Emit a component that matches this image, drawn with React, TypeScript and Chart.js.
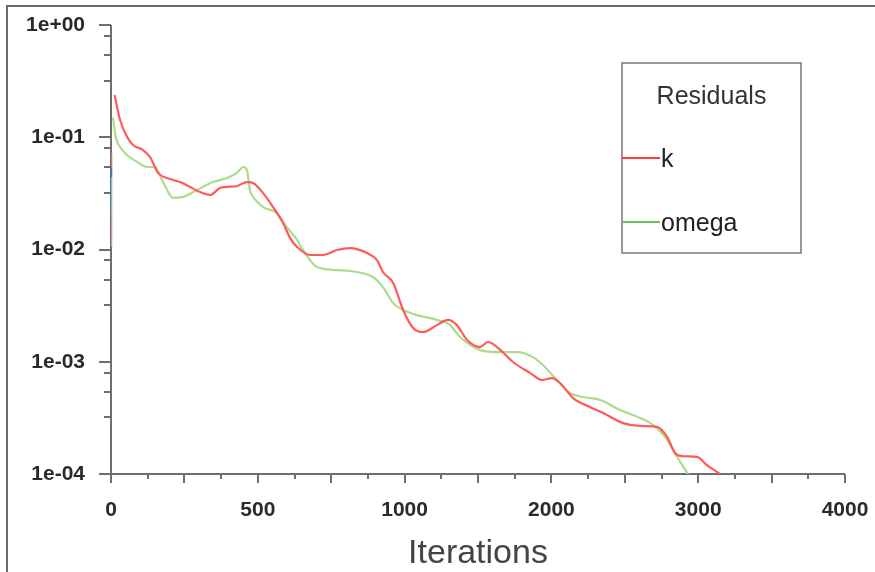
import { useEffect, useRef } from 'react';
import { Chart, registerables } from 'chart.js';

Chart.register(...registerables);

// x values are positions on the (oddly labelled) iteration axis
const kIter = [12, 31, 55, 75, 109, 133, 160, 191, 235, 269, 303, 337, 371, 395, 429, 463, 484, 518, 552, 586, 610, 634, 678, 722, 770, 814, 872, 906, 926, 961, 995, 1029, 1063, 1110, 1148, 1178, 1213, 1257, 1284, 1315, 1369, 1427, 1468, 1502, 1529, 1574, 1631, 1676, 1744, 1802, 1860, 1894, 1921, 1948, 1996, 2030, 2074, 2102];
const kResidual = [0.238, 0.1426, 0.1004, 0.0853, 0.0769, 0.0667, 0.0481, 0.0433, 0.0399, 0.0361, 0.0325, 0.0306, 0.0353, 0.0361, 0.0368, 0.0399, 0.0391, 0.0318, 0.0239, 0.0172, 0.01264, 0.01052, 0.00893, 0.00893, 0.0099, 0.0103, 0.0093, 0.00805, 0.0063, 0.00504, 0.00289, 0.002, 0.00184, 0.00212, 0.00236, 0.00212, 0.00156, 0.00135, 0.0015, 0.00135, 0.000995, 0.000795, 0.000687, 0.000716, 0.000647, 0.000475, 0.000395, 0.000349, 0.000284, 0.000268, 0.000263, 0.000214, 0.000154, 0.000144, 0.000142, 0.00012, 0.0001, 0.0000885];

const omegaIter = [7, 16, 31, 54, 89, 123, 150, 174, 191, 211, 245, 293, 347, 395, 429, 450, 463, 473, 484, 518, 565, 599, 634, 654, 702, 770, 838, 892, 926, 961, 995, 1042, 1110, 1155, 1189, 1257, 1325, 1383, 1437, 1471, 1519, 1563, 1608, 1666, 1734, 1802, 1846, 1887, 1928, 1965, 1986];
const omegaResidual = [0.15, 0.1004, 0.0818, 0.0695, 0.0603, 0.0543, 0.0543, 0.0416, 0.0339, 0.0288, 0.0294, 0.0339, 0.0399, 0.0433, 0.0481, 0.0543, 0.051, 0.0339, 0.0294, 0.0239, 0.0211, 0.0158, 0.01216, 0.0099, 0.00698, 0.00656, 0.0063, 0.00569, 0.00463, 0.00333, 0.00289, 0.0026, 0.00236, 0.00212, 0.00166, 0.00127, 0.00122, 0.00122, 0.0011, 0.000935, 0.000687, 0.000527, 0.000485, 0.000456, 0.000372, 0.000316, 0.000274, 0.000214, 0.000142, 0.0001, 0.0000815];

// short residual traces of other equations at the very first iterations
const startIter = [1, 1];
const startA = [0.0724, 0.0543];
const startB = [0.0543, 0.0443];
const startC = [0.0443, 0.0183];
const startD = [0.0183, 0.0105];

const xTickValues = [0, 500, 1000, 1500, 2000, 2500];
const xTickLabels = ['0', '500', '1000', '2000', '3000', '4000'];
const xMajorStep = 250;
const xMinorStep = 125;

const yTickValues = [1e-4, 1e-3, 1e-2, 1e-1, 1];
const yTickLabels = ['1e-04', '1e-03', '1e-02', '1e-01', '1e+00'];
const yMinorFactors = [0.8, 0.54, 0.32];

const legendTitle = 'Residuals';
const seriesNames = ['k', 'omega'];

const FONT = '"Liberation Sans", Arial, Helvetica, sans-serif';

const toPoints = (xs: number[], ys: number[]) => xs.map((x, i) => ({ x, y: ys[i] }));

const decoPlugin = {
  id: 'deco',
  beforeDatasetsDraw(chart: any) {
    const { ctx, chartArea: a, scales } = chart;
    const x = scales.x;
    const y = scales.y;
    ctx.save();
    ctx.strokeStyle = '#6e6e6e';
    ctx.lineWidth = 2;
    ctx.beginPath();
    ctx.moveTo(a.left, a.top);
    ctx.lineTo(a.left, a.bottom);
    ctx.lineTo(a.right, a.bottom);
    for (let v = 0; v <= x.max + 0.001; v += xMinorStep) {
      const px = Math.round(x.getPixelForValue(v));
      const len = v % xMajorStep === 0 ? 9 : 5;
      ctx.moveTo(px, a.bottom);
      ctx.lineTo(px, a.bottom + len);
    }
    yTickValues.forEach((v, i) => {
      const py = Math.round(y.getPixelForValue(v));
      ctx.moveTo(a.left - 12, py);
      ctx.lineTo(a.left, py);
      if (i > 0) {
        yMinorFactors.forEach((f) => {
          const pm = Math.round(y.getPixelForValue(v * f));
          ctx.moveTo(a.left - 7, pm);
          ctx.lineTo(a.left, pm);
        });
      }
    });
    ctx.stroke();
    ctx.restore();
  },
  afterDraw(chart: any) {
    const { ctx } = chart;
    ctx.save();
    // outer frame
    ctx.strokeStyle = '#6a6a6a';
    ctx.lineWidth = 2;
    ctx.beginPath();
    ctx.moveTo(7, 572);
    ctx.lineTo(7, 6);
    ctx.lineTo(875, 6);
    ctx.stroke();
    // legend box
    const bx = 622, by = 63, bw = 179, bh = 190;
    ctx.lineWidth = 1.5;
    ctx.strokeStyle = '#777777';
    ctx.strokeRect(bx, by, bw, bh);
    ctx.fillStyle = '#333333';
    ctx.font = `25px ${FONT}`;
    ctx.textAlign = 'center';
    ctx.textBaseline = 'middle';
    ctx.fillText(legendTitle, bx + bw / 2, 97);
    const colors = ['#ff3c3c', '#6cc05c'];
    const rows = [158, 222];
    ctx.textAlign = 'left';
    seriesNames.forEach((name, i) => {
      ctx.strokeStyle = colors[i];
      ctx.lineWidth = 2;
      ctx.beginPath();
      ctx.moveTo(bx, rows[i]);
      ctx.lineTo(bx + 38, rows[i]);
      ctx.stroke();
      ctx.fillStyle = '#222222';
      ctx.fillText(name, bx + 39, rows[i] + 2);
    });
    ctx.restore();
  },
};

export default function App() {
  const ref = useRef<HTMLCanvasElement | null>(null);

  useEffect(() => {
    if (!ref.current) return;
    const thin = (data: any, color: string) => ({
      data,
      borderColor: color,
      borderWidth: 2,
      pointRadius: 0,
      fill: false,
    });
    const chart = new Chart(ref.current, {
      type: 'line',
      data: {
        datasets: [
          {
            label: seriesNames[0],
            data: toPoints(kIter, kResidual),
            borderColor: '#ff5a5a',
            borderWidth: 2.2,
            pointRadius: 0,
            cubicInterpolationMode: 'monotone',
            fill: false,
          },
          {
            label: seriesNames[1],
            data: toPoints(omegaIter, omegaResidual),
            borderColor: '#acdc8c',
            borderWidth: 2.2,
            pointRadius: 0,
            cubicInterpolationMode: 'monotone',
            fill: false,
          },
          { label: 'a', ...thin(toPoints(startIter, startA), '#c87878') },
          { label: 'b', ...thin(toPoints(startIter, startB), '#5a6ec8') },
          { label: 'c', ...thin(toPoints(startIter, startC), '#8ab8d0') },
          { label: 'd', ...thin(toPoints(startIter, startD), '#c89a9a') },
        ],
      } as any,
      options: {
        responsive: false,
        animation: false,
        devicePixelRatio: 1,
        layout: { padding: { top: 25, right: 30, left: 0, bottom: 0 } },
        plugins: {
          legend: { display: false },
          tooltip: { enabled: false },
        },
        scales: {
          x: {
            type: 'linear',
            min: 0,
            max: 2500,
            grid: { display: false, drawTicks: false },
            border: { display: false },
            afterBuildTicks: (s: any) => {
              s.ticks = xTickValues.map((v) => ({ value: v }));
            },
            afterFit: (s: any) => {
              s.height = 98;
              s.paddingLeft = 0;
              s.paddingRight = 0;
            },
            ticks: {
              autoSkip: false,
              maxRotation: 0,
              padding: 24,
              color: '#2a2a2a',
              font: { family: FONT, size: 21, weight: 'bold' },
              callback: (_v: any, i: number) => xTickLabels[i],
            },
            title: {
              display: true,
              text: 'Iterations',
              color: '#444444',
              font: { family: FONT, size: 34, lineHeight: 1 },
              padding: { top: 0, bottom: 1 },
            },
          },
          y: {
            type: 'logarithmic',
            min: 1e-4,
            max: 1,
            grid: { display: false, drawTicks: false },
            border: { display: false },
            afterBuildTicks: (s: any) => {
              s.ticks = yTickValues.map((v) => ({ value: v }));
            },
            afterFit: (s: any) => {
              s.width = 111;
              s.paddingTop = 0;
              s.paddingBottom = 0;
            },
            ticks: {
              autoSkip: false,
              padding: 26,
              color: '#2a2a2a',
              font: { family: FONT, size: 21, weight: 'bold' },
              callback: (_v: any, i: number) => yTickLabels[i],
            },
          },
        },
      } as any,
      plugins: [decoPlugin],
    });
    return () => chart.destroy();
  }, []);

  return (
    <div style={{ position: 'absolute', left: 0, top: 0, width: 875, height: 572, background: '#ffffff' }}>
      <canvas ref={ref} width={875} height={572} style={{ display: 'block' }} />
    </div>
  );
}
